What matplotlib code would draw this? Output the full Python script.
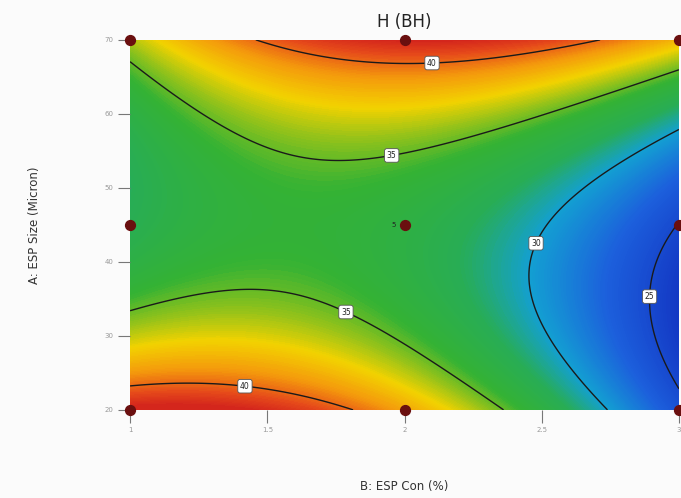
import numpy as np
import matplotlib
matplotlib.use("Agg")
import matplotlib.pyplot as plt
from matplotlib.colors import LinearSegmentedColormap

# response surface model for H (BH), coded factors X = B - 2, Y = (A - 45) / 25
terms = ["1", "X", "Y", "XY", "X2", "Y2", "X3", "X2Y", "XY2", "Y3"]
coefs = [33.24, -3.88, 1.87, 4.53, -4.68, 6.97, 0.22, -0.07, 0.07, -0.26]
levels = [25, 30, 35, 40]

# design points (B: ESP Con, A: ESP Size)
design_b = [1, 2, 3, 1, 2, 3, 1, 2, 3]
design_a = [20, 20, 20, 45, 45, 45, 70, 70, 70]
center_runs = "5"

# where the contour labels sit
label_pos = [(2.10, 67.0), (1.95, 55.1), (1.79, 33.5), (1.42, 23.7), (2.48, 42.5), (2.90, 35.3)]

b = np.linspace(1, 3, 300)
a = np.linspace(20, 70, 300)
B, A = np.meshgrid(b, a)
X = B - 2
Y = (A - 45) / 25
basis = [np.ones_like(X), X, Y, X * Y, X**2, Y**2, X**3, X**2 * Y, X * Y**2, Y**3]
H = sum(c * t for c, t in zip(coefs, basis))

stops = [(23.0, "#1232c0"), (27.0, "#1c5fdc"), (30.0, "#139fd2"), (32.0, "#28ad55"),
         (34.3, "#34b234"), (37.2, "#f2d200"), (39.0, "#f49a0c"), (40.7, "#e64a1a"),
         (41.8, "#d4261c")]
vmin, vmax = stops[0][0], stops[-1][0]
cmap = LinearSegmentedColormap.from_list(
    "de", [((v - vmin) / (vmax - vmin), c) for v, c in stops])

fig = plt.figure(figsize=(6.81, 4.98), dpi=100)
fig.patch.set_facecolor("#fbfbfb")
ax = fig.add_axes([0.191, 0.177, 0.806, 0.743])

ax.contourf(B, A, np.clip(H, vmin, vmax), 200, cmap=cmap, vmin=vmin, vmax=vmax)
cs = ax.contour(B, A, H, levels=levels, colors="#1a1a1a", linewidths=1.0)
lbls = ax.clabel(cs, fmt="%d", fontsize=5.5, colors="#222", inline=False, manual=label_pos)
for t in lbls:
    t.set_rotation(0)
    t.set_bbox(dict(boxstyle="round,pad=0.3", fc="white", ec="#555", lw=0.6))

ax.scatter(design_b, design_a, s=50, color="#6a0f0f", zorder=5, clip_on=False)
ax.text(1.97, 45, center_runs, fontsize=5, color="#222", ha="right", va="center", zorder=6)

ax.set_xlim(1, 3)
ax.set_ylim(20, 70)
ax.set_xticks([1, 1.5, 2, 2.5, 3])
ax.set_xticklabels(["1", "1.5", "2", "2.5", "3"])
ax.set_yticks([20, 30, 40, 50, 60, 70])
for s in ax.spines.values():
    s.set_visible(False)
ax.tick_params(axis="both", length=9, width=0.8, color="#777", labelsize=5, labelcolor="#999", pad=3)

ax.set_title("H (BH)", fontsize=12, pad=9, color="#222")
ax.set_xlabel("B: ESP Con (%)", fontsize=8.5, labelpad=34, color="#333")
ax.set_ylabel("A: ESP Size (Micron)", fontsize=8.5, labelpad=46, color="#333")

fig.savefig("out.png")
